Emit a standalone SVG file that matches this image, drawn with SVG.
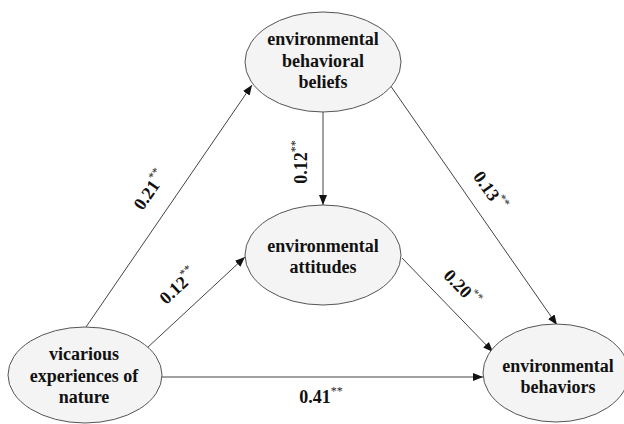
<svg xmlns="http://www.w3.org/2000/svg" width="624" height="424" viewBox="0 0 624 424">
<defs>
<style>
.node ellipse{fill:#f4f4f4;stroke:#555;stroke-width:1}
.lbl{font-family:'Liberation Serif','Times New Roman',Times,serif;font-weight:bold;font-size:18px;fill:#111;text-anchor:middle}
.coef{font-family:'Liberation Serif','Times New Roman',Times,serif;font-weight:bold;font-size:18px;fill:#111;text-anchor:middle}
.sup{font-size:12px;font-weight:normal;fill:#222}
.edge{stroke:#444;stroke-width:1;fill:none;marker-end:url(#arr)}
</style>
<marker id="arr" markerUnits="userSpaceOnUse" markerWidth="11" markerHeight="8" refX="10" refY="4" orient="auto">
<path d="M0,0 L10,4 L0,8 z" fill="#111"/>
</marker>
</defs>
<rect width="624" height="424" fill="#fff"/>
<g id="connectors">
<line class="edge" x1="86" y1="327" x2="252" y2="85"/>
<line class="edge" x1="323" y1="112" x2="323" y2="205"/>
<line class="edge" x1="147" y1="348" x2="245" y2="257"/>
<line class="edge" x1="162" y1="377" x2="483" y2="377"/>
<line class="edge" x1="402" y1="258" x2="493" y2="352"/>
<line class="edge" x1="390" y1="85" x2="557" y2="325"/>
</g>
<g id="labels">
<text class="coef" font-family="Liberation Serif, serif" transform="translate(150,190) rotate(-55)" y="6">0.21<tspan class="sup" dy="-8">**</tspan></text>
<text class="coef" font-family="Liberation Serif, serif" transform="translate(178,286) rotate(-43)" y="6">0.12<tspan class="sup" dy="-8">**</tspan></text>
<text class="coef" font-family="Liberation Serif, serif" transform="translate(301,162) rotate(-90)" y="6">0.12<tspan class="sup" dy="-8">**</tspan></text>
<text class="coef" font-family="Liberation Serif, serif" transform="translate(490,191) rotate(55)" y="6">0.13<tspan class="sup" dy="-8">**</tspan></text>
<text class="coef" font-family="Liberation Serif, serif" transform="translate(462,288) rotate(46)" y="6">0.20<tspan class="sup" dy="-8">**</tspan></text>
<text class="coef" font-family="Liberation Serif, serif" x="321" y="403">0.41<tspan class="sup" dy="-8">**</tspan></text>
</g>
<g id="beliefs" class="node">
<ellipse cx="323" cy="62" rx="78" ry="50"/>
<text class="lbl" x="323" y="45">environmental</text>
<text class="lbl" x="323" y="67">behavioral</text>
<text class="lbl" x="323" y="88">beliefs</text>
</g>
<g id="attitudes" class="node">
<ellipse cx="323" cy="255" rx="78" ry="50"/>
<text class="lbl" x="323" y="252">environmental</text>
<text class="lbl" x="323" y="273">attitudes</text>
</g>
<g id="vicarious" class="node">
<ellipse cx="85" cy="375" rx="77" ry="48"/>
<text class="lbl" x="84" y="360">vicarious</text>
<text class="lbl" x="84" y="382">experiences of</text>
<text class="lbl" x="84" y="403">nature</text>
</g>
<g id="behaviors" class="node">
<ellipse cx="556" cy="373" rx="73" ry="49"/>
<text class="lbl" x="558" y="372">environmental</text>
<text class="lbl" x="558" y="393">behaviors</text>
</g>
</svg>
